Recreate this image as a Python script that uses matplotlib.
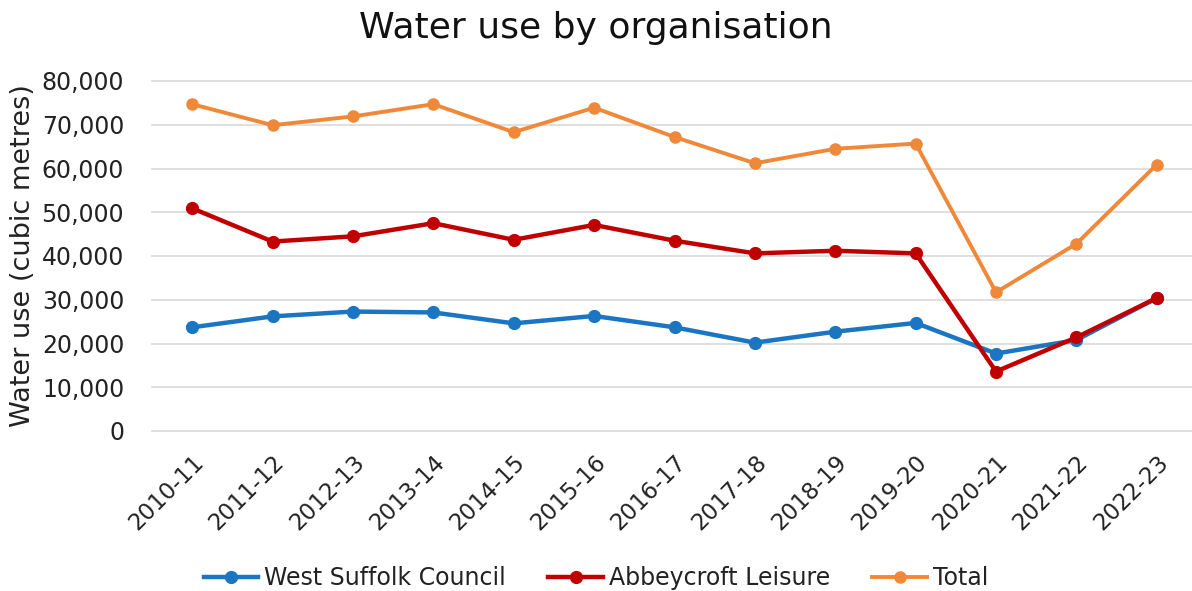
import matplotlib.pyplot as plt

years = ['2010-11', '2011-12', '2012-13', '2013-14', '2014-15', '2015-16', '2016-17',
         '2017-18', '2018-19', '2019-20', '2020-21', '2021-22', '2022-23']
west_suffolk = [23700, 26200, 27300, 27100, 24600, 26300, 23700,
                20200, 22700, 24700, 17700, 20800, 30400]
abbeycroft = [50900, 43300, 44500, 47500, 43700, 47100, 43500,
              40600, 41200, 40600, 13600, 21400, 30400]
total = [74700, 69900, 71900, 74700, 68300, 73900, 67200,
         61200, 64500, 65700, 31700, 42800, 60900]

plt.rcParams['font.family'] = ['DejaVu Sans']

W, H = 1192, 591
fig = plt.figure(figsize=(W / 100, H / 100), dpi=100)
ax = fig.add_axes([152 / W, 1 - 431 / H, 1045 / W, 350 / H])

x = range(len(years))
ax.plot(x, total, color='#F0883A', lw=2.8, marker='o', ms=8, label='Total', zorder=3)
ax.plot(x, abbeycroft, color='#C00000', lw=3.2, marker='o', ms=8.5, label='Abbeycroft Leisure', zorder=4)
ax.plot(x, west_suffolk, color='#1A75C2', lw=3.2, marker='o', ms=8.5, label='West Suffolk Council', zorder=3.5)

ax.set_xlim(-0.5, len(years) - 0.5)
ax.set_ylim(0, 80000)
ax.set_yticks(range(0, 80001, 10000))
ax.set_yticklabels(['{:,}'.format(v) for v in range(0, 80001, 10000)], fontsize=17, color='#222222')
ax.set_xticks(list(x))
ax.set_xticklabels(years, rotation=45, ha='right', rotation_mode='anchor', fontsize=16.5, color='#222222')
ax.tick_params(axis='y', length=0, pad=20)
ax.tick_params(axis='x', length=0, pad=14)
ax.grid(axis='y', color='#d9d9d9', lw=1.2)
for g in ax.get_ygridlines():
    g.set_clip_on(False)
ax.set_axisbelow(True)
for s in ax.spines.values():
    s.set_visible(False)

fig.text(23 / W, 1 - 256 / H, 'Water use (cubic metres)', rotation=90, fontsize=19.5,
         ha='center', va='center', color='#222222')
fig.text(0.5, 1 - 28 / H, 'Water use by organisation', fontsize=26,
         ha='center', va='center', color='#111111')

h, l = ax.get_legend_handles_labels()
order = [2, 1, 0]
fig.legend([h[i] for i in order], [l[i] for i in order], loc='center',
           bbox_to_anchor=(0.5, 1 - 578 / H), ncol=3, frameon=False, fontsize=17,
           handlelength=2.3, columnspacing=1.8, handletextpad=0.25, labelcolor='#222222')

fig.savefig('out.png', dpi=100)
